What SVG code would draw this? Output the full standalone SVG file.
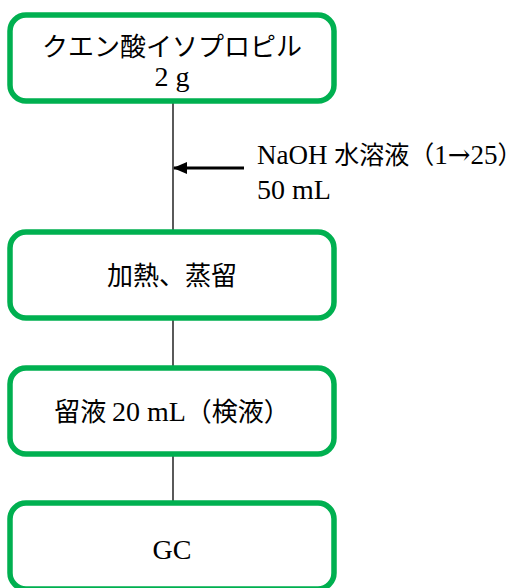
<svg xmlns="http://www.w3.org/2000/svg" width="531" height="588" viewBox="0 0 531 588">
<style>
.box{fill:#fff;stroke:#00B050;stroke-width:5.5}
.jp{font-family:"Noto Sans CJK JP","Noto Sans CJK SC",sans-serif;font-size:26px;font-weight:400;fill:#000}
.lt{font-family:"Liberation Serif","Noto Sans CJK JP",serif;font-size:28px;font-weight:400;fill:#000}
.ar{font-family:"DejaVu Serif",serif;font-weight:400}
.c{text-anchor:middle}
.ln{stroke:#000;stroke-width:1.3;fill:none}
.sm .lt,.sm.lt{font-size:27px}
.sm .jp{font-size:25px}
</style>
<defs>
<marker id="ah" markerWidth="14" markerHeight="12" refX="13" refY="6" orient="auto" markerUnits="userSpaceOnUse">
<path d="M0,0 L14,6 L0,12 Z" fill="#000"/>
</marker>
</defs>
<g id="connectors">
<line class="ln" x1="173" y1="101" x2="173" y2="232"/>
<line class="ln" x1="173" y1="318" x2="173" y2="368"/>
<line class="ln" x1="173" y1="454" x2="173" y2="503"/>
<line x1="244" y1="168" x2="174" y2="168" stroke="#000" stroke-width="3" marker-end="url(#ah)"/>
<text class="lt sm" x="257" y="164"><tspan class="lt">NaOH </tspan><tspan class="jp">水溶液（</tspan><tspan class="lt">1</tspan><tspan class="lt ar">→</tspan><tspan class="lt">25</tspan><tspan class="jp">）</tspan></text>
<text class="lt" x="257" y="199">50 mL</text>
</g>
<g id="n1">
<rect class="box" x="10" y="15" width="324" height="86" rx="16"/>
<text class="jp c" x="172" y="56">クエン酸イソプロピル</text>
<text class="lt c" x="172" y="86">2 g</text>
</g>
<g id="n2">
<rect class="box" x="10" y="232" width="324" height="86" rx="16"/>
<text class="jp c" x="172" y="285">加熱、蒸留</text>
</g>
<g id="n3">
<rect class="box" x="10" y="368" width="324" height="86" rx="16"/>
<text class="c" x="172" y="421"><tspan class="jp">留液 </tspan><tspan class="lt">20 mL</tspan><tspan class="jp">（検液）</tspan></text>
</g>
<g id="n4">
<rect class="box" x="10" y="503" width="324" height="86" rx="16"/>
<text class="lt c" x="172" y="559">GC</text>
</g>
</svg>
